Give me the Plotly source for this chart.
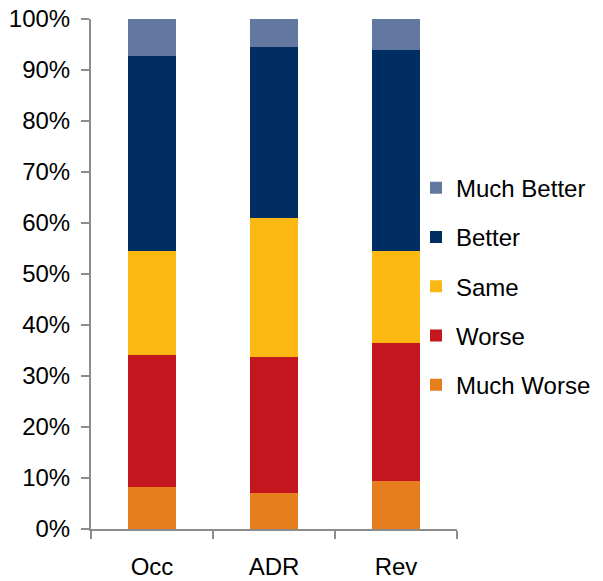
import plotly.graph_objects as go

categories = ["Occ", "ADR", "Rev"]
much_worse = [8.3, 7.1, 9.4]
worse = [25.9, 26.7, 27.1]
same = [20.4, 27.1, 18.1]
better = [38.1, 33.7, 39.3]
much_better = [7.3, 5.4, 6.1]

series = [
    ("Much Worse", much_worse, "#E67E1E"),
    ("Worse", worse, "#C3161F"),
    ("Same", same, "#FBB813"),
    ("Better", better, "#002D62"),
    ("Much Better", much_better, "#6378A0"),
]

fig = go.Figure()
for i, (name, vals, color) in enumerate(series):
    fig.add_trace(go.Bar(
        x=categories, y=[v / 100 for v in vals], name=name,
        marker=dict(color=color, line=dict(width=0)),
        legendgroup=name, legendrank=1000 - i,
    ))

font_family = "Liberation Sans, Arial, sans-serif"
fig.update_layout(
    width=603, height=581,
    barmode="stack", bargap=0.6,
    plot_bgcolor="white", paper_bgcolor="white",
    margin=dict(l=91, r=146, t=19, b=52, autoexpand=False),
    font=dict(family=font_family, size=24, color="#000000"),
    showlegend=True,
    legend=dict(
        x=0.888, y=0.476, xanchor="left", yanchor="middle",
        traceorder="grouped", tracegroupgap=15,
        font=dict(size=24), bgcolor="rgba(0,0,0,0)",
        itemwidth=30,
    ),
    xaxis=dict(
        showline=True, linecolor="#8c8c8c", linewidth=2,
        ticks="outside", tickson="boundaries", ticklen=8, tickcolor="#8c8c8c", tickwidth=2,
        ticklabelstandoff=15, automargin=False, ticklabeloverflow="allow",
        range=[-0.5, 2.5],
    ),
    yaxis=dict(
        range=[0, 1], tickvals=[i / 10 for i in range(11)], tickformat=".0%",
        showline=True, linecolor="#8c8c8c", linewidth=2,
        ticks="outside", ticklen=8, tickcolor="#8c8c8c", tickwidth=2,
        showgrid=False, zeroline=False, ticklabelstandoff=6, automargin=False,
        ticklabeloverflow="allow",
    ),
)
fig.write_html("out.html", config={"displayModeBar": False},
               post_script="document.body.style.margin='0px';")
